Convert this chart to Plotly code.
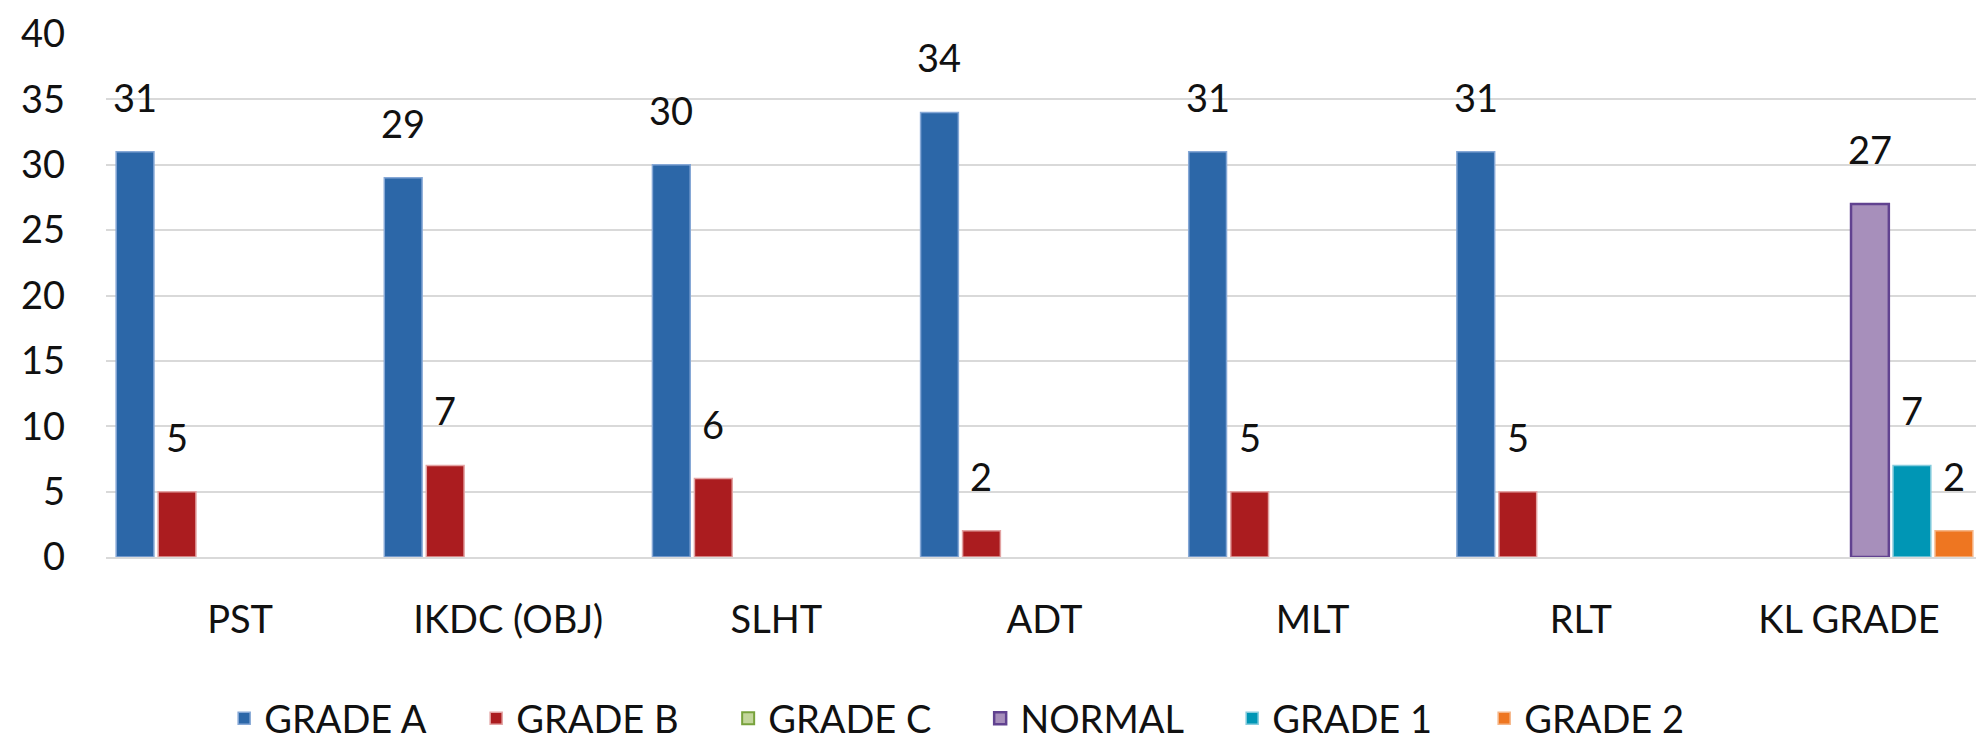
import plotly.graph_objects as go

categories = ["PST", "IKDC (OBJ)", "SLHT", "ADT", "MLT", "RLT", "KL GRADE"]
series_names = ["GRADE A", "GRADE B", "GRADE C", "NORMAL", "GRADE 1", "GRADE 2"]
grade_a = [31, 29, 30, 34, 31, 31, 0]
grade_b = [5, 7, 6, 2, 5, 5, 0]
grade_c = [0, 0, 0, 0, 0, 0, 0]
normal = [0, 0, 0, 0, 0, 0, 27]
grade_1 = [0, 0, 0, 0, 0, 0, 7]
grade_2 = [0, 0, 0, 0, 0, 0, 2]
y_ticks = [0, 5, 10, 15, 20, 25, 30, 35, 40]

series_values = [grade_a, grade_b, grade_c, normal, grade_1, grade_2]
fill_colors = ["#2C67A8", "#AB1C1F", "#C3D69B", "#A78FBB", "#0096B5", "#EE7621"]
line_colors = ["#86A8D6", "#E3A3A3", "#78A23C", "#614290", "#86CCDD", "#F5B688"]
line_widths = [1.5, 1.5, 2, 2.5, 1.5, 1.5]

FONT = "Lato"
FS = 38
BARGAP = 0.06

fig = go.Figure()
for name, vals, fc, lc, lw in zip(series_names, series_values, fill_colors, line_colors, line_widths):
    fig.add_trace(go.Bar(
        name=name, x=categories,
        y=[v if v else None for v in vals],  # zero bars are not drawn
        marker=dict(color=fc, line=dict(color=lc, width=lw)),
        hoverinfo="skip",
    ))

# value labels above non-zero bars, placed through the axis scale
n = len(series_names)
slot = (1 - BARGAP) / n
annotations = []
for k, vals in enumerate(series_values):
    for i, v in enumerate(vals):
        if v:
            annotations.append(dict(
                x=i + (k - (n - 1) / 2) * slot, y=v, xref="x", yref="y",
                text=str(v), showarrow=False, yanchor="bottom", yshift=30,
                font=dict(family=FONT, size=FS, color="#111111"),
            ))

fig.update_layout(
    width=1984, height=752,
    margin=dict(l=98, r=9, t=26, b=203, autoexpand=False),
    paper_bgcolor="white", plot_bgcolor="white",
    barmode="group", bargap=BARGAP, bargroupgap=0.1,
    font=dict(family=FONT, size=FS, color="#111111"),
    showlegend=True,
    legend=dict(
        orientation="h", xref="container", x=0.49, xanchor="center",
        yref="container", y=0.055, yanchor="middle",
        font=dict(family=FONT, size=FS, color="#111111"),
        itemwidth=30, traceorder="normal", entrywidth=207,
    ),
    annotations=annotations,
)
fig.update_xaxes(
    showgrid=False, showline=True, linecolor="#D9D9D9", linewidth=2,
    ticks="", tickfont=dict(family=FONT, size=FS, color="#111111"),
    ticklabelstandoff=28, automargin=False,
)
fig.update_yaxes(
    range=[0, 40], tickvals=y_ticks, showgrid=True, gridcolor="#D9D9D9", gridwidth=2,
    zeroline=False, showline=False, ticks="",
    tickfont=dict(family=FONT, size=FS, color="#111111"),
    ticklabelstandoff=40, automargin=False,
)

fig.write_html("out.html")
